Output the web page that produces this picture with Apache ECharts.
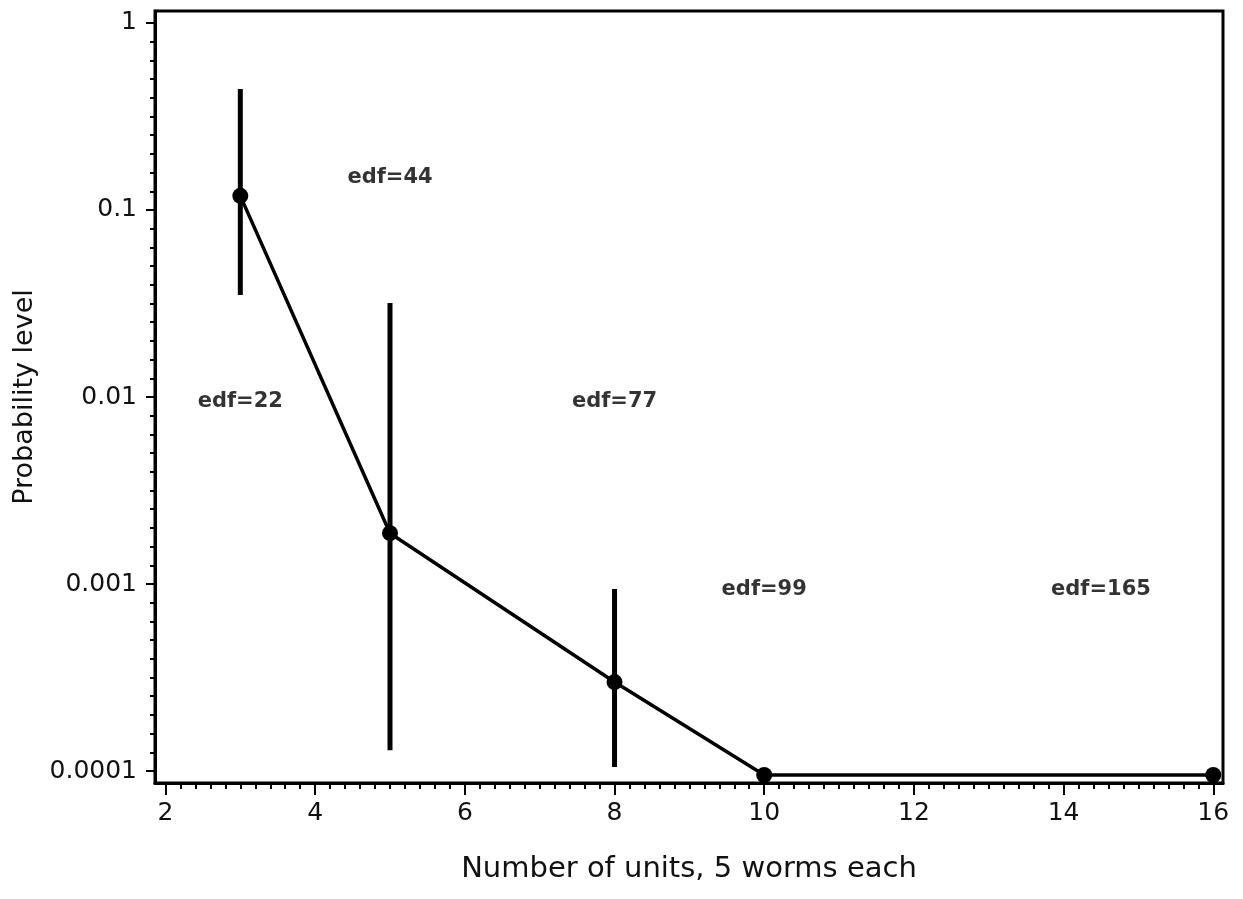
<!DOCTYPE html>
<html>
<head>
<meta charset="utf-8">
<script src="https://cdn.jsdelivr.net/npm/echarts@6/dist/echarts.min.js"></script>
<style>html,body{margin:0;padding:0;background:#fff;}#c{width:1243px;height:899px;}</style>
</head>
<body>
<div id="c"></div>
<script>
// ---- data ----
const units = [3, 5, 8, 10, 16];
const probability = [0.119, 0.00187, 0.000299, 0.0000952, 0.0000952];
const barUnits = [3, 5, 8];
const barLow = [0.0351, 0.000129, 0.000105];
const barHigh = [0.444, 0.0318, 0.00094];
const edfText = ['edf=22', 'edf=44', 'edf=77', 'edf=99', 'edf=165'];
const edfX = [3, 5, 8, 10, 14.5];
const edfY = [0.0094, 0.15, 0.0094, 0.00093, 0.00093];
const xTickValues = [2, 4, 6, 8, 10, 12, 14, 16];
const yTickValues = [1, 0.1, 0.01, 0.001, 0.0001];
const yTickLabels = ['1', '0.1', '0.01', '0.001', '0.0001'];

// axis ranges
const xMin = 1.86, xMax = 16.13;
const yMin = Math.pow(10, -4.064), yMax = Math.pow(10, 0.064);

const xMinor = [];
for (let i = 0; i <= 70; i++) xMinor.push(2 + i * 0.2);
const yMinor = [];
for (let k = -40; k <= 0; k++) yMinor.push(Math.pow(10, k / 10));

const FONT = 'DejaVu Sans';
const chart = echarts.init(document.getElementById('c'), null, {renderer: 'canvas'});

function yLabel(v) {
  const lv = Math.log10(v);
  let best = 0, d = 1e9;
  yTickValues.forEach((t, i) => { const dd = Math.abs(Math.log10(t) - lv); if (dd < d) { d = dd; best = i; } });
  return yTickLabels[best];
}

chart.setOption({
  animation: false,
  backgroundColor: '#fff',
  grid: {left: 155, right: 20, top: 11, bottom: 116, outerBoundsMode: 'none', containLabel: false,
         show: true, borderColor: '#000', borderWidth: 3, backgroundColor: 'transparent'},
  xAxis: [{
    type: 'value', min: xMin, max: xMax, position: 'bottom',
    name: 'Number of units, 5 worms each', nameLocation: 'middle', nameGap: 72,
    nameTextStyle: {fontFamily: FONT, fontSize: 29, color: '#111'},
    axisLine: {show: true, lineStyle: {color: '#000', width: 3}},
    axisTick: {show: true, length: 12, lineStyle: {color: '#000', width: 2}, customValues: xTickValues},
    axisLabel: {customValues: xTickValues, fontFamily: FONT, fontSize: 25, color: '#111', margin: 18},
    splitLine: {show: false}
  }, {
    type: 'value', min: xMin, max: xMax, position: 'bottom',
    axisLine: {show: false},
    axisTick: {show: true, length: 6, lineStyle: {color: '#000', width: 2}, customValues: xMinor},
    axisLabel: {show: false},
    splitLine: {show: false}
  }],
  yAxis: [{
    type: 'log', logBase: 10, min: yMin, max: yMax, position: 'left',
    name: 'Probability level', nameLocation: 'middle', nameGap: 116, nameRotate: 90,
    nameTextStyle: {fontFamily: FONT, fontSize: 27, color: '#111'},
    axisLine: {show: true, lineStyle: {color: '#000', width: 3}},
    axisTick: {show: true, length: 9, lineStyle: {color: '#000', width: 2}, customValues: yTickValues},
    axisLabel: {customValues: yTickValues, formatter: yLabel, fontFamily: FONT, fontSize: 25, color: '#111', margin: 18},
    splitLine: {show: false}
  }, {
    type: 'log', logBase: 10, min: yMin, max: yMax, position: 'left',
    axisLine: {show: false},
    axisTick: {show: true, length: 5, lineStyle: {color: '#000', width: 2}, customValues: yMinor},
    axisLabel: {show: false},
    splitLine: {show: false}
  }],
  series: [{
    type: 'custom',
    xAxisIndex: 0, yAxisIndex: 0,
    data: barUnits.map((x, i) => [x, barLow[i], barHigh[i]]),
    renderItem: function (params, api) {
      const p1 = api.coord([api.value(0), api.value(1)]);
      const p2 = api.coord([api.value(0), api.value(2)]);
      return {type: 'line', shape: {x1: p1[0], y1: p1[1], x2: p2[0], y2: p2[1]}, style: {stroke: '#000', lineWidth: 5}};
    },
    z: 2
  }, {
    type: 'line',
    xAxisIndex: 0, yAxisIndex: 0,
    data: units.map((x, i) => [x, probability[i]]),
    symbol: 'circle', symbolSize: 16,
    itemStyle: {color: '#000'},
    lineStyle: {color: '#000', width: 3.5},
    z: 3
  }, {
    type: 'scatter',
    xAxisIndex: 0, yAxisIndex: 0,
    symbolSize: 0,
    data: edfText.map((t, i) => ({name: t, value: [edfX[i], edfY[i]]})),
    label: {show: true, position: 'inside', formatter: '{b}', fontFamily: FONT, fontSize: 21, fontWeight: 'bold', color: '#000'},
    z: 4
  }]
});
</script>
</body>
</html>
